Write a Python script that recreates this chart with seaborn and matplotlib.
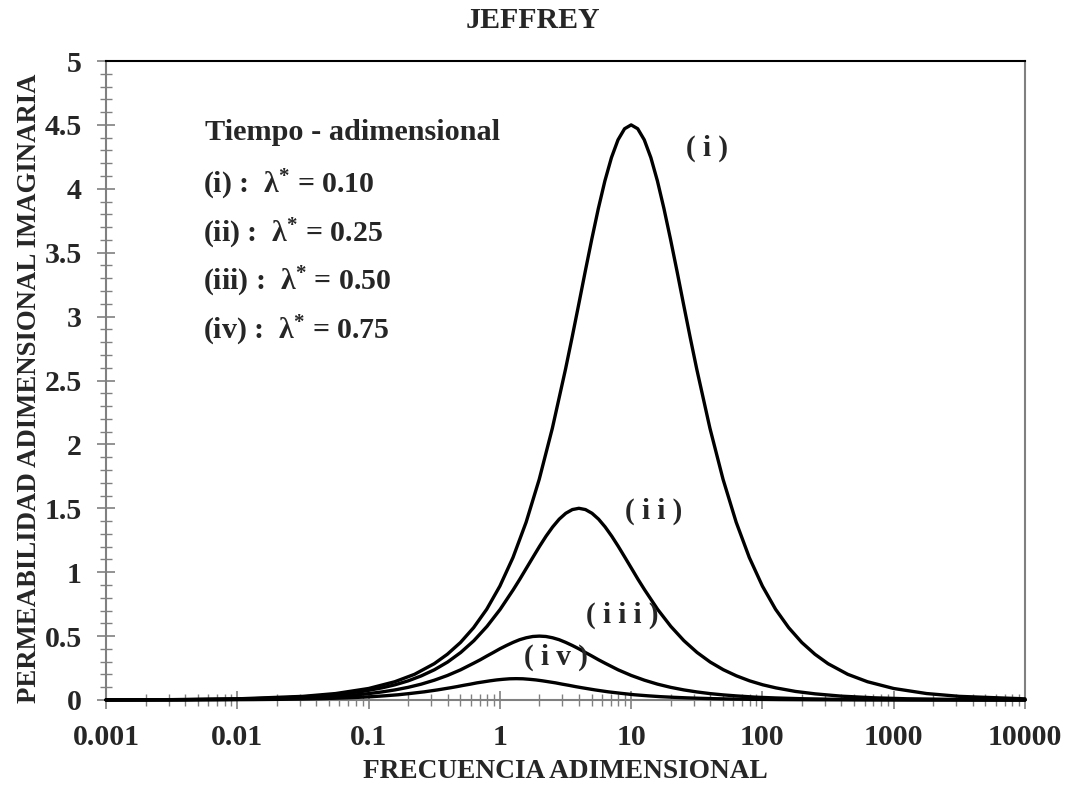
import numpy as np
import pandas as pd
import matplotlib
matplotlib.use("Agg")
import matplotlib.pyplot as plt
import seaborn as sns
from matplotlib.ticker import MultipleLocator, FixedLocator, FuncFormatter, NullFormatter

# ---------------- data ----------------
x_i = [0.001, 0.00316, 0.01, 0.0316, 0.0562, 0.1, 0.1585, 0.2239, 0.3162, 0.3981, 0.5012, 0.631, 0.794,
       1.0, 1.259, 1.585, 1.995, 2.512, 3.162,
       3.548, 3.981, 4.467, 5.012, 5.623, 6.310, 7.079, 7.943, 8.913, 10.0,
       11.22, 12.59, 14.13, 15.85, 17.78, 19.95, 22.39, 25.12, 28.18, 31.62,
       39.81, 50.12, 63.10, 79.43, 100.0, 125.9, 158.5, 199.5, 251.2, 316.2,
       446.7, 631.0, 1000.0, 1778.0, 3162.0, 10000.0]
y_i = [0.0009, 0.0028, 0.009, 0.0285, 0.0506, 0.090, 0.143, 0.201, 0.284, 0.358, 0.450, 0.566, 0.710,
       0.891, 1.115, 1.391, 1.727, 2.127, 2.588,
       2.836, 3.092, 3.352, 3.605, 3.845, 4.062, 4.244, 4.383, 4.470, 4.500,
       4.470, 4.383, 4.244, 4.062, 3.845, 3.605, 3.352, 3.092, 2.836, 2.588,
       2.127, 1.727, 1.391, 1.115, 0.891, 0.710, 0.566, 0.450, 0.358, 0.284,
       0.201, 0.143, 0.090, 0.0506, 0.0285, 0.009]

x_ii = [0.001, 0.004, 0.01265, 0.02249, 0.04, 0.0634, 0.0896, 0.1265, 0.1592, 0.2005, 0.2524, 0.3177,
        0.4, 0.5036, 0.634, 0.798, 1.005, 1.265,
        1.419, 1.592, 1.787, 2.005, 2.249, 2.524, 2.832, 3.177, 3.565, 4.0,
        4.488, 5.036, 5.650, 6.340, 7.113, 7.981, 8.955, 10.05, 11.27, 12.65,
        15.92, 20.05, 25.24, 31.77, 40.0, 50.36, 63.40, 79.81, 100.5, 126.5,
        178.7, 252.4, 400.0, 711.3, 1265.0, 4000.0, 10000.0]
y_ii = [0.0008, 0.003, 0.0095, 0.017, 0.030, 0.048, 0.067, 0.095, 0.119, 0.150, 0.189, 0.237,
        0.297, 0.372, 0.464, 0.576, 0.709, 0.863,
        0.945, 1.031, 1.117, 1.202, 1.282, 1.354, 1.415, 1.461, 1.490, 1.500,
        1.490, 1.461, 1.415, 1.354, 1.282, 1.202, 1.117, 1.031, 0.945, 0.863,
        0.709, 0.576, 0.464, 0.372, 0.297, 0.237, 0.189, 0.150, 0.119, 0.095,
        0.067, 0.048, 0.030, 0.017, 0.0095, 0.003, 0.001]

x_iii = [0.001, 0.002, 0.00632, 0.01125, 0.02, 0.0317, 0.0448, 0.0632, 0.0796, 0.1002, 0.1262, 0.1589,
         0.2, 0.2518, 0.317, 0.399, 0.502, 0.632,
         0.710, 0.796, 0.893, 1.002, 1.125, 1.262, 1.416, 1.589, 1.783, 2.0,
         2.244, 2.518, 2.825, 3.170, 3.557, 3.991, 4.477, 5.024, 5.637, 6.325,
         7.962, 10.02, 12.62, 15.89, 20.0, 25.18, 31.70, 39.91, 50.24, 63.25,
         89.34, 126.2, 200.0, 355.7, 632.5, 2000.0, 10000.0]
y_iii = [0.0005, 0.001, 0.0032, 0.0056, 0.010, 0.016, 0.022, 0.032, 0.040, 0.050, 0.063, 0.079,
         0.099, 0.124, 0.155, 0.192, 0.236, 0.288,
         0.315, 0.344, 0.372, 0.401, 0.427, 0.451, 0.472, 0.487, 0.497, 0.500,
         0.497, 0.487, 0.472, 0.451, 0.427, 0.401, 0.372, 0.344, 0.315, 0.288,
         0.236, 0.192, 0.155, 0.124, 0.099, 0.079, 0.063, 0.050, 0.040, 0.032,
         0.022, 0.016, 0.010, 0.0056, 0.0032, 0.001, 0.0002]

x_iv = [0.001, 0.00422, 0.0075, 0.01333, 0.0211, 0.0299, 0.0422, 0.0531, 0.0668, 0.0841, 0.1059,
        0.1333, 0.1679, 0.2113, 0.266, 0.335, 0.422,
        0.473, 0.531, 0.596, 0.668, 0.750, 0.841, 0.944, 1.059, 1.188, 1.333,
        1.496, 1.679, 1.883, 2.113, 2.371, 2.660, 2.985, 3.349, 3.758, 4.217,
        5.308, 6.683, 8.413, 10.59, 13.33, 16.79, 21.13, 26.60, 33.49, 42.16,
        59.56, 84.13, 133.3, 237.1, 421.6, 1333.0, 10000.0]
y_iv = [0.0002, 0.0011, 0.0019, 0.0033, 0.0053, 0.0075, 0.0105, 0.0133, 0.0167, 0.021, 0.026,
        0.033, 0.041, 0.052, 0.064, 0.079, 0.096,
        0.105, 0.115, 0.124, 0.134, 0.142, 0.150, 0.157, 0.162, 0.166, 0.167,
        0.166, 0.162, 0.157, 0.150, 0.142, 0.134, 0.124, 0.115, 0.105, 0.096,
        0.079, 0.064, 0.052, 0.041, 0.033, 0.026, 0.021, 0.0167, 0.0133, 0.0105,
        0.0075, 0.0053, 0.0033, 0.0019, 0.0011, 0.0003, 0.0000]

x_major_ticks = [0.001, 0.01, 0.1, 1, 10, 100, 1000, 10000]
curve_names = ["(i)", "(ii)", "(iii)", "(iv)"]
curve_labels = ["( i )", "( i i )", "( i i i )", "( i v )"]
lambda_values = ["0.10", "0.25", "0.50", "0.75"]
legend_title = "Tiempo - adimensional"
title = "JEFFREY"
xlabel = "FRECUENCIA ADIMENSIONAL"
ylabel = "PERMEABILIDAD ADIMENSIONAL IMAGINARIA"

frames = []
for name, xs, ys in zip(curve_names, [x_i, x_ii, x_iii, x_iv], [y_i, y_ii, y_iii, y_iv]):
    frames.append(pd.DataFrame({"x": xs, "y": ys, "curve": name}))
df = pd.concat(frames, ignore_index=True)

# ---------------- style ----------------
sns.set_theme(style="white")
plt.rcParams["font.family"] = ["Liberation Serif", "DejaVu Serif"]
plt.rcParams["font.weight"] = "bold"
plt.rcParams["mathtext.fontset"] = "custom"
plt.rcParams["mathtext.rm"] = "Liberation Serif:bold"
plt.rcParams["mathtext.it"] = "Liberation Serif:bold"
plt.rcParams["mathtext.bf"] = "Liberation Serif:bold"

W, H = 1067, 788
fig = plt.figure(figsize=(W / 100, H / 100), dpi=100)
ax = fig.add_axes([106 / W, 1 - 700 / H, (1025 - 106) / W, (700 - 61) / H])

sns.lineplot(data=df, x="x", y="y", hue="curve", units="curve", estimator=None,
             palette={n: "black" for n in curve_names}, legend=False,
             linewidth=2.4, ax=ax)
for ln in ax.get_lines():
    ln.set_clip_on(False)
    ln.set_zorder(5)
    ln.set_solid_joinstyle("round")

ax.set_xscale("log")
ax.set_xlim(0.001, 10000)
ax.set_ylim(0, 5)
ax.set_xlabel("")
ax.set_ylabel("")

minor_x = [m * d for d in x_major_ticks[:-1] for m in range(2, 10)]
ax.xaxis.set_major_locator(FixedLocator(x_major_ticks))
ax.xaxis.set_minor_locator(FixedLocator(minor_x))
ax.xaxis.set_major_formatter(FuncFormatter(lambda v, p: f"{v:g}"))
ax.xaxis.set_minor_formatter(NullFormatter())
ax.yaxis.set_major_locator(MultipleLocator(0.5))
ax.yaxis.set_minor_locator(MultipleLocator(0.1))
ax.yaxis.set_major_formatter(FuncFormatter(lambda v, p: f"{v:g}"))

gray = "#808080"
ax.tick_params(which="both", direction="inout", color=gray, bottom=True, left=True,
               top=False, right=False)
ax.tick_params(which="major", length=13, width=1.2, labelsize=21.5, pad=11)
ax.tick_params(which="minor", length=9, width=1.0)
for lab in ax.get_xticklabels() + ax.get_yticklabels():
    lab.set_fontweight("bold")

for side in ["left", "right", "bottom"]:
    ax.spines[side].set_color(gray)
    ax.spines[side].set_linewidth(1.5)
ax.spines["top"].set_color("black")
ax.spines["top"].set_linewidth(1.5)

def fx(px):
    return px / W

def fy(py):
    return 1 - py / H

fig.text(fx(533), fy(21), title, ha="center", va="center", fontsize=21.5, fontweight="bold")
fig.text(fx(565), fy(772), xlabel, ha="center", va="center", fontsize=19.7, fontweight="bold")
fig.text(fx(30), fy(388), ylabel, ha="center", va="center", rotation=90,
         fontsize=19.3, fontweight="bold")

# legend-like text block
fig.text(fx(205), fy(132), legend_title, ha="left", va="center", fontsize=21.8, fontweight="bold")
leg_y = [185, 234, 282, 331]
for name, lv, yy in zip(curve_names, lambda_values, leg_y):
    fig.text(fx(203), fy(yy), name + r" :  λ$^{*}$ = " + lv, ha="left", va="center",
             fontsize=21.5, fontweight="bold")

# curve labels
lab_pos = [(707, 148), (654, 511), (622, 615), (556, 657)]
for lab, (px, py) in zip(curve_labels, lab_pos):
    fig.text(fx(px), fy(py), lab, ha="center", va="center", fontsize=21, fontweight="bold")

fig.savefig("out.png", dpi=100)
